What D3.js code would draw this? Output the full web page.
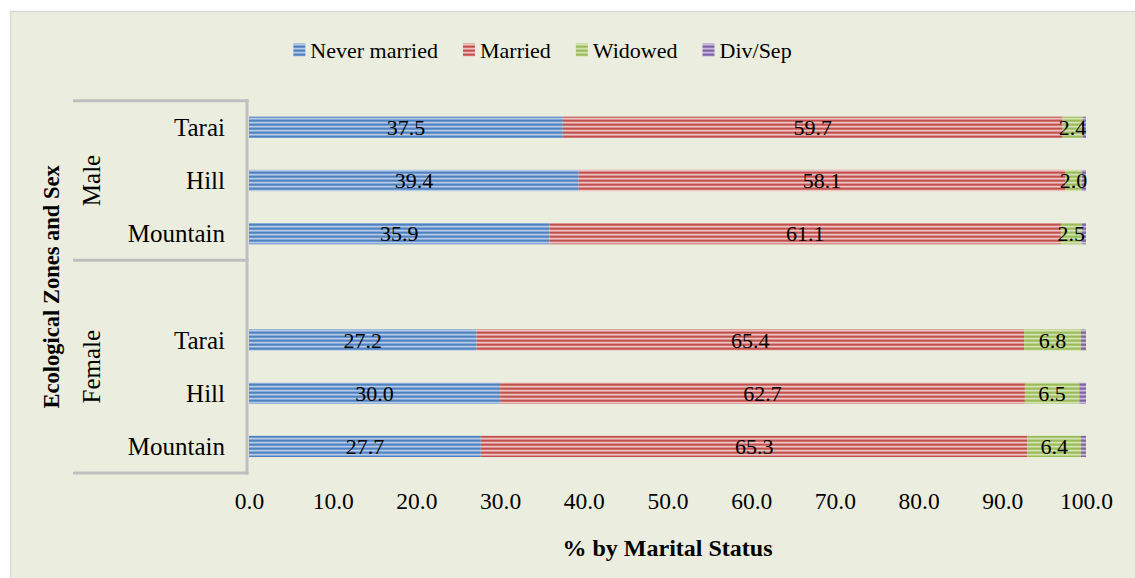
<!DOCTYPE html>
<html>
<head>
<meta charset="utf-8">
<script src="https://cdn.jsdelivr.net/npm/d3@7"></script>
<style>
  body { margin: 0; background: #fff; }
  svg text { font-family: 'Liberation Serif', 'Times New Roman', serif; fill: #000; }
</style>
</head>
<body>
<svg id="chart" width="1135" height="578"></svg>
<script>
'use strict';
//Data. Rows run top to bottom; the blank row is the gap inside the Female group.
const sexes = ['Male', 'Female'];
const zones = ['Tarai', 'Hill', 'Mountain'];
const statuses = ['Never married', 'Married', 'Widowed', 'Div/Sep'];
const rowKeys = ['Male-Tarai', 'Male-Hill', 'Male-Mountain', 'Female-blank', 'Female-Tarai', 'Female-Hill', 'Female-Mountain'];
const neverMarried = [37.5, 39.4, 35.9, null, 27.2, 30.0, 27.7];
const married = [59.7, 58.1, 61.1, null, 65.4, 62.7, 65.3];
const widowed = [2.4, 2.0, 2.5, null, 6.8, 6.5, 6.4];
const divSep = [0.4, 0.5, 0.5, null, 0.6, 0.8, 0.6];
const xTicks = [0, 10, 20, 30, 40, 50, 60, 70, 80, 90, 100];

const series = [neverMarried, married, widowed, divSep];
//Colours: dark stripe, light stripe, mid stripe.
const colors = [
	['#4F81BD', '#B3C9E8', '#7FA3D6'],
	['#C0504D', '#ECC4C3', '#D98583'],
	['#9BBB59', '#D3E3B1', '#B5CD85'],
	['#8064A2', '#C9B9DC', '#A189BF']
];

const svg = d3.select('#chart');
const W = 1135, H = 578;

//Chart area background.
svg.append('rect')
	.attr('x', 10.5).attr('y', 11.5)
	.attr('width', W).attr('height', H)
	.style('fill', '#EBEEDE')
	.style('stroke', '#D9D9D9')
	.style('stroke-width', '1.5px');

//Striped fills.
const defs = svg.append('defs');
colors.forEach((c, i) => {
	const p = defs.append('pattern')
		.attr('id', 'pat' + i)
		.attr('patternUnits', 'userSpaceOnUse')
		.attr('width', 8).attr('height', 4);
	p.append('rect').attr('width', 8).attr('height', 4).style('fill', c[2]);
	p.append('rect').attr('y', 0).attr('width', 8).attr('height', 1.4).style('fill', c[0]);
	p.append('rect').attr('y', 2).attr('width', 8).attr('height', 1.2).style('fill', c[1]);
});

const x = d3.scaleLinear().domain([0, 100]).range([249, 1086]);
const y = d3.scaleBand().domain(rowKeys).range([100.7, 473])
	.paddingInner(0.6).paddingOuter(0.3);

//Stack the rows.
const rows = rowKeys.map((k, i) => {
	let acc = 0;
	const segs = series.map((s, j) => {
		const v = s[i];
		const seg = { key: k, idx: j, v: v, x0: acc, x1: acc + (v || 0) };
		acc += (v || 0);
		return seg;
	});
	return segs;
}).filter(r => r[0].v !== null);

const gBars = svg.append('g');
rows.forEach(r => {
	gBars.selectAll(null).data(r).enter().append('rect')
		.attr('x', d => x(d.x0))
		.attr('y', d => y(d.key))
		.attr('width', d => x(d.x1) - x(d.x0))
		.attr('height', y.bandwidth())
		.style('fill', d => 'url(#pat' + d.idx + ')');
	//Value labels, all but Div/Sep.
	gBars.selectAll(null).data(r.filter(d => d.idx < 3)).enter().append('text')
		.attr('x', d => x((d.x0 + d.x1) / 2))
		.attr('y', d => y(d.key) + y.bandwidth() / 2)
		.attr('dy', '0.35em')
		.attr('text-anchor', 'middle')
		.style('font-size', '22px')
		.text(d => d.v.toFixed(1));
});

//X axis: labels only.
const xAxis = d3.axisBottom(x).tickValues(xTicks).tickSize(0).tickPadding(0)
	.tickFormat(d => d.toFixed(1));
const gx = svg.append('g').attr('transform', 'translate(0,490)').call(xAxis);
gx.select('.domain').remove();
gx.selectAll('text')
	.style('font-family', "'Liberation Serif', serif")
	.style('font-size', '23.5px')
	.attr('dy', '0.8em');

svg.append('text')
	.attr('x', (x(0) + x(100)) / 2)
	.attr('y', 548)
	.attr('dy', '0.35em')
	.attr('text-anchor', 'middle')
	.style('font-size', '24px')
	.style('font-weight', 'bold')
	.text('% by Marital Status');

//Category labels.
const catRows = rowKeys.filter(k => !k.endsWith('blank'));
svg.append('g').selectAll('text').data(catRows).enter().append('text')
	.attr('x', 225)
	.attr('y', k => y(k) + y.bandwidth() / 2)
	.attr('dy', '0.35em')
	.attr('text-anchor', 'end')
	.style('font-size', '25px')
	.text(k => k.split('-')[1]);

//Group brackets.
const step = y.step();
const yTop = y.range()[0];
const groupEdges = [yTop, yTop + 3 * step, y.range()[1]];
const lineCol = '#BFBFBF';
groupEdges.forEach(gy => {
	svg.append('line')
		.attr('x1', 73).attr('x2', 248.5)
		.attr('y1', gy).attr('y2', gy)
		.style('stroke', lineCol).style('stroke-width', '3px');
});
svg.append('line')
	.attr('x1', 247).attr('x2', 247)
	.attr('y1', groupEdges[0] - 1.5).attr('y2', groupEdges[2] + 1.5)
	.style('stroke', lineCol).style('stroke-width', '3px');

//Sex labels, rotated.
sexes.forEach((s, i) => {
	const cy = (groupEdges[i] + groupEdges[i + 1]) / 2;
	svg.append('text')
		.attr('transform', 'translate(91,' + cy + ') rotate(-90)')
		.attr('dy', '0.35em')
		.attr('text-anchor', 'middle')
		.style('font-size', '25px')
		.text(s);
});

//Y axis title.
svg.append('text')
	.attr('transform', 'translate(51,' + ((groupEdges[0] + groupEdges[2]) / 2) + ') rotate(-90)')
	.attr('dy', '0.35em')
	.attr('text-anchor', 'middle')
	.style('font-size', '22.5px')
	.style('font-weight', 'bold')
	.text('Ecological Zones and Sex');

//Legend, centred.
const legend = svg.append('g');
const items = statuses.map((s, i) => {
	const g = legend.append('g');
	g.append('rect').attr('width', 12).attr('height', 13).attr('y', -6.5)
		.style('fill', 'url(#pat' + i + ')');
	const t = g.append('text').attr('x', 17).attr('dy', '0.35em')
		.style('font-size', '22px').text(s);
	return { g: g, w: 17 + t.node().getComputedTextLength() };
});
const gap = 25;
const total = d3.sum(items, d => d.w) + gap * (items.length - 1);
let lx = 542.5 - total / 2;
items.forEach(it => {
	it.g.attr('transform', 'translate(' + lx + ',50)');
	lx += it.w + gap;
});
</script>
</body>
</html>
